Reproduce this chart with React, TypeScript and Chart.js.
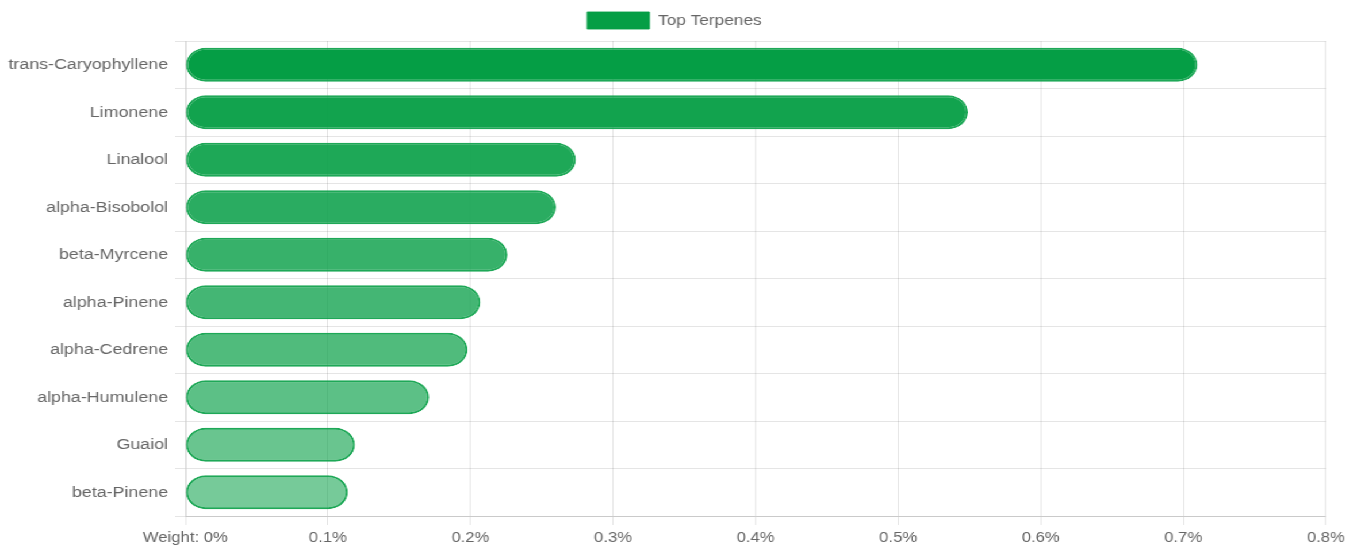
import React, { useEffect, useRef } from "react";
import { Chart, registerables } from "chart.js";

Chart.register(...registerables);

const categories = [
  "trans-Caryophyllene",
  "Limonene",
  "Linalool",
  "alpha-Bisobolol",
  "beta-Myrcene",
  "alpha-Pinene",
  "alpha-Cedrene",
  "alpha-Humulene",
  "Guaiol",
  "beta-Pinene",
];

const weights = [0.71, 0.549, 0.274, 0.26, 0.226, 0.207, 0.198, 0.171, 0.119, 0.114];

const barAlphas = [1, 0.95, 0.9, 0.85, 0.8, 0.75, 0.7, 0.65, 0.6, 0.55];

const xTickLabels = ["Weight: 0%", "0.1%", "0.2%", "0.3%", "0.4%", "0.5%", "0.6%", "0.7%", "0.8%"];

const seriesLabel = "Top Terpenes";

const GREEN = "5, 158, 69";
const FONT = "'Liberation Sans', Arial, Helvetica, sans-serif";
const STRETCH = 1.15;
const W = 1358 / STRETCH;
const H = 548;

const legendTweak = {
  id: "legendTweak",
  beforeLayout(chart: any) {
    const lg = chart.legend;
    if (lg && !lg.__gapPatched) {
      const orig = lg.fit;
      lg.fit = function (this: any) {
        orig.call(this);
        this.height += 2;
      };
      lg.__gapPatched = true;
    }
  },
  afterLayout(chart: any) {
    const lg = chart.legend;
    if (lg) {
      lg.left += 10;
      lg.right += 10;
    }
  },
};

export default function App() {
  const ref = useRef<HTMLCanvasElement | null>(null);

  useEffect(() => {
    if (!ref.current) return;
    const chart = new Chart(ref.current, {
      type: "bar",
      plugins: [legendTweak],
      data: {
        labels: categories,
        datasets: [
          {
            label: seriesLabel,
            data: weights,
            backgroundColor: barAlphas.map((a) => `rgba(${GREEN}, ${a})`),
            borderColor: `rgba(${GREEN}, 0.9)`,
            borderWidth: 2,
            borderRadius: 20,
            borderSkipped: false,
            barPercentage: 0.89,
            categoryPercentage: 0.8,
          },
        ],
      },
      options: {
        indexAxis: "y",
        animation: false,
        responsive: true,
        maintainAspectRatio: false,
        layout: { padding: { top: 2, right: 29, bottom: 0, left: 0 } },
        plugins: {
          tooltip: { enabled: false },
          legend: {
            display: true,
            position: "top",
            labels: {
              boxWidth: 54,
              boxHeight: 17,
              color: "#666",
              font: { family: FONT, size: 15 },
              padding: 10,
              generateLabels: (c: any) => {
                const base = Chart.defaults.plugins.legend.labels.generateLabels(c);
                return base.map((l: any) => ({
                  ...l,
                  fillStyle: `rgb(${GREEN})`,
                  strokeStyle: `rgba(${GREEN}, 0.85)`,
                  lineWidth: 1,
                }));
              },
            },
          },
        },
        scales: {
          x: {
            type: "linear",
            min: 0,
            max: 0.8,
            ticks: {
              stepSize: 0.1,
              color: "#666",
              font: { family: FONT, size: 14.5 },
              padding: 4.3,
              maxRotation: 0,
              callback: (_v: any, i: number) => xTickLabels[i],
            },
            grid: { color: "rgba(0,0,0,0.1)", tickLength: 9 },
            border: { color: "rgba(0,0,0,0.12)" },
            afterFit: (scale: any) => {
              scale.height = 32;
            },
          },
          y: {
            ticks: {
              color: "#666",
              font: { family: FONT, size: 15.5 },
              padding: 6,
            },
            grid: { color: "rgba(0,0,0,0.1)", tickLength: 9 },
            border: { color: "rgba(0,0,0,0.12)" },
            afterFit: (scale: any) => {
              scale.width = 161;
            },
          },
        },
      },
    });
    return () => chart.destroy();
  }, []);

  return (
    <div
      style={{
        position: "absolute",
        left: 0,
        top: 0,
        width: W,
        height: H,
        transform: `scaleX(${STRETCH})`,
        transformOrigin: "0 0",
        background: "#fff",
      }}
    >
      <canvas ref={ref} />
    </div>
  );
}
